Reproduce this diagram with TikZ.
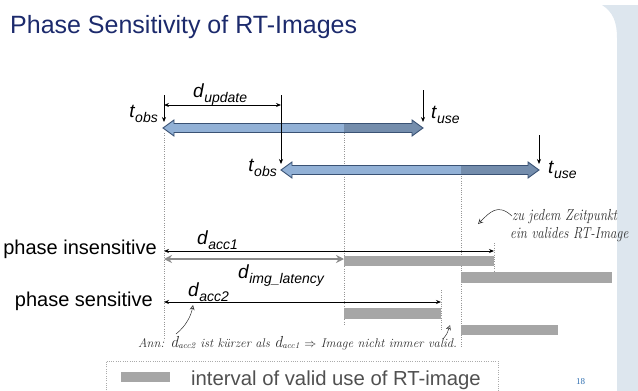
\documentclass[tikz,border=0pt]{standalone}
\usepackage{fontspec}
\setmainfont{Liberation Sans}
\newfontfamily\handfont{Latin Modern Roman}
\newfontfamily\pagefont{Liberation Serif}
\usetikzlibrary{arrows.meta,calc}

\definecolor{titleblue}{RGB}{28,42,108}
\definecolor{arrowlight}{RGB}{146,177,214}
\definecolor{arrowdark}{RGB}{116,141,172}
\definecolor{arrowedge}{RGB}{58,82,116}
\definecolor{barfill}{RGB}{166,166,166}
\definecolor{panelblue}{RGB}{221,230,238}
\definecolor{pagenum}{RGB}{46,110,176}
\definecolor{guidegrey}{RGB}{150,150,150}
\definecolor{latgrey}{RGB}{140,140,140}
\definecolor{legendgrey}{RGB}{80,80,80}
\definecolor{inkgrey}{RGB}{45,45,45}

% italic variable with a lowered italic index
\newcommand\varsub[2]{\textit{#1}\raisebox{-5pt}{\fontsize{14}{14}\selectfont\textit{#2}}}

% outline of a horizontal double block arrow between \p1 and \p3
\newcommand\blockshape{(\x1,\y1) -- (\x1+11pt,\y1+8pt) -- (\x1+11pt,\y1+4.5pt)
  -- (\x3-11pt,\y1+4.5pt) -- (\x3-11pt,\y1+8pt) -- (\x3,\y1)
  -- (\x3-11pt,\y1-8pt) -- (\x3-11pt,\y1-4.5pt) -- (\x1+11pt,\y1-4.5pt)
  -- (\x1+11pt,\y1-8pt) -- cycle}
% block arrow from #1 to #3, darker from #2 on
\newcommand\blockarrow[3]{%
  \fill[arrowlight] let \p1=(#1), \p3=(#3) in \blockshape;
  \fill[arrowdark] let \p1=(#1), \p2=(#2), \p3=(#3) in
    (\x2,\y1+4.5pt) -- (\x3-11pt,\y1+4.5pt) -- (\x3-11pt,\y1+8pt) -- (\x3,\y1)
    -- (\x3-11pt,\y1-8pt) -- (\x3-11pt,\y1-4.5pt) -- (\x2,\y1-4.5pt) -- cycle;
  \draw[arrowedge, line width=0.9pt, line join=miter] let \p1=(#1), \p3=(#3) in \blockshape;
}
% a handwritten d with its index
\newcommand\handd[1]{{\fontsize{16}{16}\selectfont d}\textsubscript{#1}}
% narrow handwriting
\newcommand\narrowhand[1]{\scalebox{0.81}[1]{#1}}

\begin{document}
\begin{tikzpicture}[x=1pt,y=-1pt,
  lbl/.style={inner sep=0pt, font=\fontsize{19}{22}\selectfont},
  rowlbl/.style={inner sep=0pt, font=\fontsize{20}{24}\selectfont},
  hand/.style={inner sep=0pt, text=inkgrey, font=\handfont\itshape\fontsize{12.6}{15}\selectfont},
  bighand/.style={inner sep=0pt, text=inkgrey, font=\handfont\itshape\fontsize{16}{18}\selectfont},
  handarrow/.style={inkgrey, line width=0.5pt, -{Stealth[open,length=5pt,width=5pt]}},
  marker/.style={black, line width=0.7pt, -{Stealth[length=5pt,width=4pt]}},
  span/.style={black, line width=0.8pt, {Stealth[length=5pt,width=4pt]}-{Stealth[length=5pt,width=4pt]}},
  latspan/.style={latgrey, line width=2pt, {Stealth[length=8pt,width=8pt]}-{Stealth[length=8pt,width=8pt]}},
  guide/.style={guidegrey, line width=0.7pt, dash pattern=on 1pt off 1.3pt},
  bar/.style={fill=barfill},
]
\useasboundingbox (0,0) rectangle (638,391);

% side panel of the slide
\fill[panelblue] (602,5) .. controls (613,12) and (617,22) .. (617,38)
  -- (617,391) -- (638,391) -- (638,5) -- cycle;

% title
\node[anchor=base west, inner sep=0pt, text=titleblue,
  font=\fontsize{25}{30}\selectfont] (title) at (10,33) {Phase Sensitivity of RT-Images};

% key points on the time axis
\coordinate (obs1) at (163,128);
\coordinate (dark1) at (344,128);
\coordinate (use1) at (423,128);
\coordinate (obs2) at (281,170);
\coordinate (dark2) at (461,170);
\coordinate (use2) at (539,170);

% guide lines
\draw[guide] (164,133) -- (164,340);
\draw[guide] (344,133) -- (344,324);
\draw[guide] (461,176) -- (461,348);
\draw[guide] (494,243) -- (494,272);
\draw[guide] (441,290) -- (441,330);

% the two update cycles
\blockarrow{obs1}{dark1}{use1}
\blockarrow{obs2}{dark2}{use2}

% time markers
\coordinate (obs1top) at (164,95);
\coordinate (obs1hit) at (164,122);
\coordinate (use1top) at (423,90);
\coordinate (use1hit) at (423,122);
\coordinate (obs2top) at (281,95);
\coordinate (obs2hit) at (281,164);
\coordinate (use2top) at (539,135);
\coordinate (use2hit) at (539,164);
\draw[marker] (obs1top) -- (obs1hit);
\draw[marker] (use1top) -- (use1hit);
\draw[marker] (obs2top) -- (obs2hit);
\draw[marker] (use2top) -- (use2hit);

% update period
\coordinate (updL) at (164,105);
\coordinate (updR) at (281,105);
\draw[span] (updL) -- (updR);

\node[lbl, anchor=base west] (lupd) at (193,97) {\varsub{d}{update}};
\node[lbl, anchor=base east] (lobs1) at (158,117) {\varsub{t}{obs}};
\node[lbl, anchor=base west] (luse1) at (431,118) {\varsub{t}{use}};
\node[lbl, anchor=base east] (lobs2) at (277,171) {\varsub{t}{obs}};
\node[lbl, anchor=base west] (luse2) at (548,173) {\varsub{t}{use}};

% phase insensitive case
\node[rowlbl, anchor=base east] (rins) at (157,254) {phase insensitive};
\coordinate (acc1L) at (164,251);
\coordinate (acc1R) at (494,251);
\draw[span] (acc1L) -- (acc1R);
\coordinate (latL) at (164,259);
\coordinate (latR) at (344,259);
\draw[latspan] (latL) -- (latR);
\fill[bar] (344,256) rectangle (494,266);
\fill[bar] (461,272) rectangle (612,283);
\node[lbl, anchor=base west] (lacc1) at (197,244) {\varsub{d}{acc1}};
\node[lbl, anchor=base west] (llat) at (238,278) {\varsub{d}{img\_latency}};

% phase sensitive case
\node[rowlbl, anchor=base east] (rsen) at (153,306) {phase sensitive};
\coordinate (acc2L) at (164,302);
\coordinate (acc2R) at (441,302);
\draw[span] (acc2L) -- (acc2R);
\fill[bar] (344,308) rectangle (441,319);
\fill[bar] (461,325) rectangle (558,335);
\node[lbl, anchor=base west] (lacc2) at (188,296) {\varsub{d}{acc2}};

% handwritten notes
\node[bighand, anchor=base west] (note1) at (512,220) {\narrowhand{zu jedem Zeitpunkt}};
\node[bighand, anchor=base west] (note2) at (510,238) {\narrowhand{ein valides RT-Image}};
\coordinate (note1hit) at (478,224);
\draw[handarrow] (note1.west) .. controls (498,203) and (490,212) .. (note1hit);

\node[hand, anchor=base west] (ann) at (138,347)
  {Ann: \handd{acc2} ist kürzer als \handd{acc1} $\Rightarrow$ Image nicht immer valid.};
\coordinate (annfoot) at (176,334);
\coordinate (annhit) at (193,305);
\draw[handarrow] (annfoot) .. controls (186,326) and (191,316) .. (annhit);
\coordinate (validfoot) at (443,339);
\coordinate (validhit) at (450,325);
\draw[handarrow] (validfoot) .. controls (447,334) .. (validhit);

% legend
\draw[guidegrey!80, line width=0.7pt, dash pattern=on 1pt off 1.3pt]
  (106,395) -- (106,361) -- (498,361) -- (498,395);
\fill[bar] (121,372) rectangle (170,382);
\node[anchor=base west, inner sep=0pt, text=legendgrey,
  font=\fontsize{20.3}{24}\selectfont] (legtext) at (191,385) {interval of valid use of RT-image};

% page number
\node[anchor=base west, inner sep=0pt, text=pagenum,
  font=\pagefont\fontsize{9}{10}\selectfont] (page) at (576,384) {18};
\end{tikzpicture}
\end{document}
